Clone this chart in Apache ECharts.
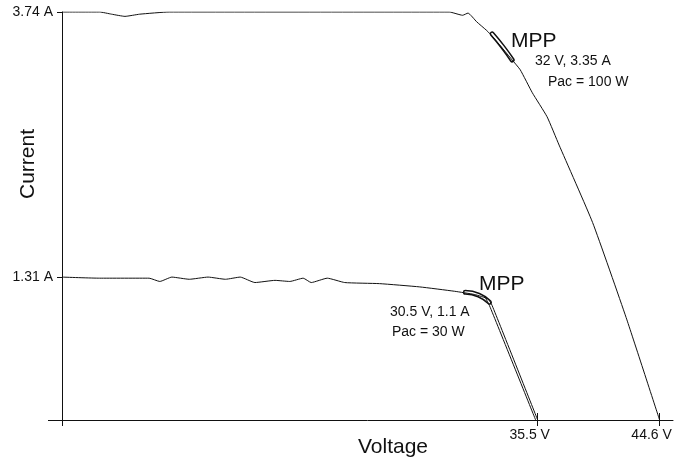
<!DOCTYPE html>
<html>
<head>
<meta charset="utf-8">
<script src="https://cdn.jsdelivr.net/npm/echarts@6/dist/echarts.min.js"></script>
<style>
  html, body { margin: 0; padding: 0; background: #fff; }
  #chart { width: 675px; height: 463px; }
</style>
</head>
<body>
<div id="chart"></div>
<script>
const mychart = echarts.init(document.getElementById('chart'))

// [voltage V, current A]
var upperCurve = [
    [0, 3.74], [2.8, 3.74], [3.7, 3.72], [4.7, 3.70], [5.8, 3.72], [8.0, 3.74],
    [28.9, 3.74], [29.9, 3.71], [30.3, 3.73], [30.95, 3.65], [31.7, 3.57],
    [32.1, 3.52], [33.6, 3.30], [34.2, 3.21], [35.1, 3.00], [36.2, 2.78],
    [37.1, 2.52], [39.6, 1.81], [42.1, 0.94], [44.6, 0]
]
var lowerCurve = [
    [0, 1.31], [2.8, 1.30], [6.5, 1.30], [7.3, 1.27], [8.2, 1.31], [9.5, 1.29],
    [10.9, 1.31], [12.2, 1.29], [13.3, 1.31], [14.4, 1.26], [15.9, 1.28],
    [17.0, 1.27], [18.0, 1.30], [18.6, 1.26], [19.8, 1.30], [21.1, 1.26],
    [23.7, 1.25], [26.7, 1.22], [29.3, 1.18], [30.8, 1.15], [31.8, 1.11],
    [32.1, 1.05], [35.5, 0]
]
// second (return) trace on the steep part of the lower curve
var lowerTrace = [[31.6, 1.12], [31.9, 1.05], [35.35, 0]]
// scribbled loops around the maximum power points
var upperMpp = [[32.1, 3.54], [32.9, 3.42], [33.6, 3.30]]
var lowerMpp = [[30.1, 1.17], [31.1, 1.145], [31.9, 1.08]]

var xTicks = [35.5, 44.6]
var yTicks = [3.74, 1.31]

var font = 'Liberation Sans, Arial, sans-serif'
var ink = '#111'

function curve(data, width) {
    return {
        type: 'line',
        data: data,
        showSymbol: false,
        smooth: 0.15,
        silent: true,
        lineStyle: { color: ink, width: width || 1 }
    }
}
function loop(data, color, width) {
    return {
        type: 'line',
        data: data,
        showSymbol: false,
        smooth: true,
        silent: true,
        lineStyle: { color: color, width: width, cap: 'round' }
    }
}

mychart.setOption({
    animation: false,
    backgroundColor: '#fff',
    grid: { left: 62, right: 2, top: 12, bottom: 43, outerBoundsMode: 'none', containLabel: false },
    xAxis: [
        {
            type: 'value', min: 0, max: 45.6,
            splitLine: { show: false },
            axisLine: { lineStyle: { color: ink, width: 1 } },
            axisTick: { customValues: xTicks, inside: true, length: 7, lineStyle: { color: ink } },
            axisLabel: {
                customValues: xTicks, margin: 8, color: ink, fontSize: 14, fontFamily: font,
                padding: [0, 16, 0, 0],
                formatter: function (v) { return v + ' V' }
            }
        },
        {
            type: 'value', min: 0, max: 45.6, position: 'bottom',
            splitLine: { show: false },
            axisLine: { show: false },
            axisTick: { customValues: [0].concat(xTicks), length: 6, lineStyle: { color: ink } },
            axisLabel: { show: false }
        }
    ],
    yAxis: [
        {
            type: 'value', min: 0, max: 3.74,
            splitLine: { show: false },
            axisLine: { lineStyle: { color: ink, width: 1 } },
            axisTick: { customValues: yTicks, length: 5, lineStyle: { color: ink } },
            axisLabel: {
                customValues: yTicks, margin: 9, color: ink, fontSize: 14, fontFamily: font,
                formatter: function (v) { return v + ' A' }
            }
        },
        {
            type: 'value', min: 0, max: 3.74, position: 'left', offset: 0,
            splitLine: { show: false },
            axisLine: { show: false },
            axisTick: { customValues: [0], length: 14, lineStyle: { color: ink } },
            axisLabel: { show: false }
        }
    ],
    graphic: [
        { type: 'text', x: 28, y: 164, rotation: Math.PI / 2,
          style: { text: 'Current', font: '21px ' + font, fill: ink, align: 'center', verticalAlign: 'middle' } },
        { type: 'text', x: 393, y: 447,
          style: { text: 'Voltage', font: '21px ' + font, fill: ink, align: 'center', verticalAlign: 'middle' } },
        { type: 'text', x: 511, y: 41,
          style: { text: 'MPP', font: '21px ' + font, fill: ink, align: 'left', verticalAlign: 'middle' } },
        { type: 'text', x: 535, y: 61,
          style: { text: '32 V, 3.35 A', font: '14px ' + font, fill: ink, align: 'left', verticalAlign: 'middle' } },
        { type: 'text', x: 548, y: 82,
          style: { text: 'Pac = 100 W', font: '14px ' + font, fill: ink, align: 'left', verticalAlign: 'middle' } },
        { type: 'text', x: 479, y: 284,
          style: { text: 'MPP', font: '21px ' + font, fill: ink, align: 'left', verticalAlign: 'middle' } },
        { type: 'text', x: 390, y: 312,
          style: { text: '30.5 V, 1.1 A', font: '14px ' + font, fill: ink, align: 'left', verticalAlign: 'middle' } },
        { type: 'text', x: 392, y: 332,
          style: { text: 'Pac = 30 W', font: '14px ' + font, fill: ink, align: 'left', verticalAlign: 'middle' } }
    ],
    series: [
        loop(upperMpp, ink, 5),
        loop(upperMpp, '#fff', 2),
        loop(lowerMpp, ink, 5),
        loop(lowerMpp, '#fff', 2),
        curve(upperCurve),
        curve(lowerCurve),
        curve(lowerTrace)
    ]
})
</script>
</body>
</html>
